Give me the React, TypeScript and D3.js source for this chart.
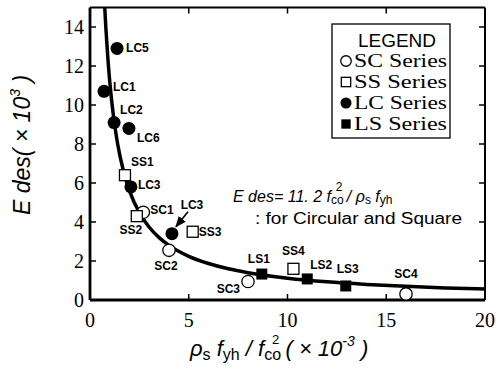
import React from "react";
import * as d3 from "d3";

// Curve Edes = 11.2 fco^2 / (rho_s fyh)
const curveX = [0.72, 0.8, 0.9, 1, 1.2, 1.4, 1.7, 2, 2.5, 3, 3.5, 4, 5, 6, 7, 8, 10, 12, 14, 16, 18, 20];
const curveE = [15.5, 14.0, 12.45, 11.2, 9.33, 8.0, 6.59, 5.6, 4.48, 3.73, 3.2, 2.8, 2.24, 1.87, 1.6, 1.4, 1.12, 0.93, 0.8, 0.7, 0.62, 0.56];

// Specimens: name, series, x, Edes
const names = ["LC5", "LC1", "LC2", "LC6", "SS1", "LC3", "SC1", "SS2", "LC3", "SS3", "SC2", "SC3", "LS1", "SS4", "LS2", "LS3", "SC4"];
const series = ["LC", "LC", "LC", "LC", "SS", "LC", "SC", "SS", "LC", "SS", "SC", "SC", "LS", "SS", "LS", "LS", "SC"];
const xs = [1.37, 0.71, 1.22, 1.97, 1.77, 2.07, 2.7, 2.37, 4.15, 5.2, 4.0, 8.0, 8.7, 10.3, 11.0, 12.95, 16.0];
const es = [12.9, 10.7, 9.1, 8.8, 6.4, 5.8, 4.5, 4.3, 3.4, 3.5, 2.55, 0.95, 1.33, 1.6, 1.08, 0.72, 0.31];
// label offsets (dx, dy, anchor)
const labelPos: [number, number, string][] = [
  [9, 4, "start"], [9, 0, "start"], [6, -9, "start"], [8, 14, "start"],
  [6, -9, "start"], [7, 2, "start"], [7, 2, "start"], [-6, 18, "middle"],
  [20, -25, "middle"], [6, 4, "start"], [-3, 20, "middle"], [-8, 12, "end"],
  [-3, -11, "middle"], [0, -14, "middle"], [3, -10, "start"], [2, -13, "middle"],
  [0, -16, "middle"],
];

const legendItems = ["SC", "SS", "LC", "LS"];
const xTicks = [0, 5, 10, 15, 20];
const yTicks = [0, 2, 4, 6, 8, 10, 12, 14];

const W = 496;
const H = 372;

function Marker({ s, cx, cy, k = 1 }: { s: string; cx: number; cy: number; k?: number }) {
  if (s === "SC") return <circle cx={cx} cy={cy} r={6.2 * k} fill="#fff" stroke="#000" strokeWidth={1.3} />;
  if (s === "LC") return <circle cx={cx} cy={cy} r={6.5 * k} fill="#000" />;
  const h = 5.5 * k;
  if (s === "SS") return <rect x={cx - h} y={cy - h} width={2 * h} height={2 * h} fill="#fff" stroke="#000" strokeWidth={1.3} />;
  return <rect x={cx - h} y={cy - h} width={2 * h} height={2 * h} fill="#000" />;
}

export default function App() {
  const x = d3.scaleLinear().domain([0, 20]).range([90, 485]);
  const y = d3.scaleLinear().domain([0, 15]).range([300, 7.5]);
  const [x0, x1] = x.range();
  const [y0, y1] = y.range();

  const pts = curveX.map((v, i) => [v, curveE[i]] as [number, number]);
  const line = d3
    .line<[number, number]>()
    .x((d) => x(d[0]))
    .y((d) => y(d[1]))
    .curve(d3.curveMonotoneX);

  const lblFont = "'Liberation Sans Narrow', 'Liberation Sans', Arial, sans-serif";
  const serif = "'Liberation Serif', 'Times New Roman', serif";
  const sans = "'Liberation Sans', Arial, sans-serif";

  // arrow for second LC3
  const ai = 8;
  const ax = x(xs[ai]);
  const ay = y(es[ai]);

  return (
    <svg width={W} height={H} style={{ position: "absolute", left: 0, top: 0, background: "#fff" }}>
      <defs>
        <clipPath id="plotClip">
          <rect x={x0} y={y1} width={x1 - x0} height={y0 - y1} />
        </clipPath>
        <marker id="arr" viewBox="0 0 10 10" refX={9} refY={5} markerWidth={7} markerHeight={7} orient="auto">
          <path d="M0,1 L10,5 L0,9 z" fill="#000" />
        </marker>
      </defs>

      {/* frame */}
      <line x1={x0} y1={y1} x2={x1} y2={y1} stroke="#000" strokeWidth={2} />
      <line x1={x1} y1={y1} x2={x1} y2={y0} stroke="#000" strokeWidth={2} />
      <line x1={x0} y1={y0} x2={x1} y2={y0} stroke="#000" strokeWidth={2.8} />
      <line x1={x0} y1={y1} x2={x0} y2={y0} stroke="#000" strokeWidth={2.8} />

      {/* ticks */}
      {yTicks.slice(1).map((t) => (
        <g key={"y" + t}>
          <line x1={x0} x2={x0 + 6} y1={y(t)} y2={y(t)} stroke="#000" strokeWidth={1.5} />
          <line x1={x1} x2={x1 - 6} y1={y(t)} y2={y(t)} stroke="#000" strokeWidth={1.5} />
        </g>
      ))}
      {xTicks.slice(1, -1).map((t) => (
        <g key={"x" + t}>
          <line x1={x(t)} x2={x(t)} y1={y0} y2={y0 - 6} stroke="#000" strokeWidth={1.5} />
          <line x1={x(t)} x2={x(t)} y1={y1} y2={y1 + 6} stroke="#000" strokeWidth={1.5} />
        </g>
      ))}

      {/* tick labels */}
      {yTicks.map((t) => (
        <text key={"yl" + t} x={x0 - 6} y={y(t) + 7} textAnchor="end" fontFamily={serif} fontSize={20}>
          {t}
        </text>
      ))}
      {xTicks.map((t) => (
        <text key={"xl" + t} x={x(t)} y={y0 + 27} textAnchor="middle" fontFamily={serif} fontSize={20}>
          {t}
        </text>
      ))}

      {/* curve */}
      <path d={line(pts) ?? ""} fill="none" stroke="#000" strokeWidth={3.5} clipPath="url(#plotClip)" />

      {/* arrow */}
      <line x1={ax + 16} y1={ay - 22} x2={ax + 4} y2={ay - 7} stroke="#000" strokeWidth={1.6} markerEnd="url(#arr)" />

      {/* points */}
      {names.map((n, i) => (
        <Marker key={"m" + i} s={series[i]} cx={x(xs[i])} cy={y(es[i])} />
      ))}
      {names.map((n, i) => {
        const [dx, dy, anc] = labelPos[i];
        return (
          <text
            key={"t" + i}
            x={x(xs[i]) + dx}
            y={y(es[i]) + dy}
            textAnchor={anc as any}
            fontFamily={lblFont}
            fontSize={12}
            fontWeight="bold"
          >
            {n}
          </text>
        );
      })}

      {/* legend */}
      <rect x={332} y={24} width={118} height={114} fill="#fff" stroke="#000" strokeWidth={1.3} />
      <text x={397} y={47} textAnchor="middle" fontFamily={sans} fontSize={19}>
        LEGEND
      </text>
      {legendItems.map((s, i) => (
        <g key={"lg" + s}>
          <Marker s={s} cx={346} cy={61 + i * 21} k={0.85} />
          <text
            x={354}
            y={67 + i * 21}
            fontFamily={serif}
            fontSize={19}
            textLength={93}
            lengthAdjust="spacingAndGlyphs"
          >
            {s} Series
          </text>
        </g>
      ))}

      {/* formula */}
      <text x={233} y={202} fontFamily={sans} fontSize={16} fontStyle="italic">
        E des= 11. 2 f
        <tspan fontSize={12} dy={2} fontStyle="normal">co</tspan>
        <tspan fontSize={12} dx={-8} dy={-13} fontStyle="normal">2</tspan>
        <tspan dy={11}> / ρ</tspan>
        <tspan fontSize={12} dy={2} fontStyle="normal">s</tspan>
        <tspan dy={-2}> f</tspan>
        <tspan fontSize={12} dy={2} fontStyle="normal">yh</tspan>
      </text>
      <text x={255} y={224} fontFamily={sans} fontSize={16} textLength={207} lengthAdjust="spacingAndGlyphs">
        : for Circular and Square
      </text>

      {/* axis titles */}
      <text
        transform={`translate(30,145) rotate(-90)`}
        textAnchor="middle"
        fontFamily={sans}
        fontSize={23}
        fontStyle="italic"
      >
        E des( × 10<tspan fontSize={14} dy={-10}>3</tspan>
        <tspan dy={10}> )</tspan>
      </text>
      <text x={190} y={356} fontFamily={sans} fontSize={22} fontStyle="italic">
        ρ<tspan fontSize={16} dy={4} fontStyle="normal">s</tspan>
        <tspan dy={-4}> f</tspan>
        <tspan fontSize={16} dy={4} fontStyle="normal">yh</tspan>
        <tspan dy={-4}> / f</tspan>
        <tspan fontSize={16} dy={4} fontStyle="normal">co</tspan>
        <tspan fontSize={13} dx={-9} dy={-16} fontStyle="normal">2</tspan>
        <tspan dy={12}> ( × 10</tspan>
        <tspan fontSize={14} dy={-10}>-3</tspan>
        <tspan dy={10}> )</tspan>
      </text>
    </svg>
  );
}
